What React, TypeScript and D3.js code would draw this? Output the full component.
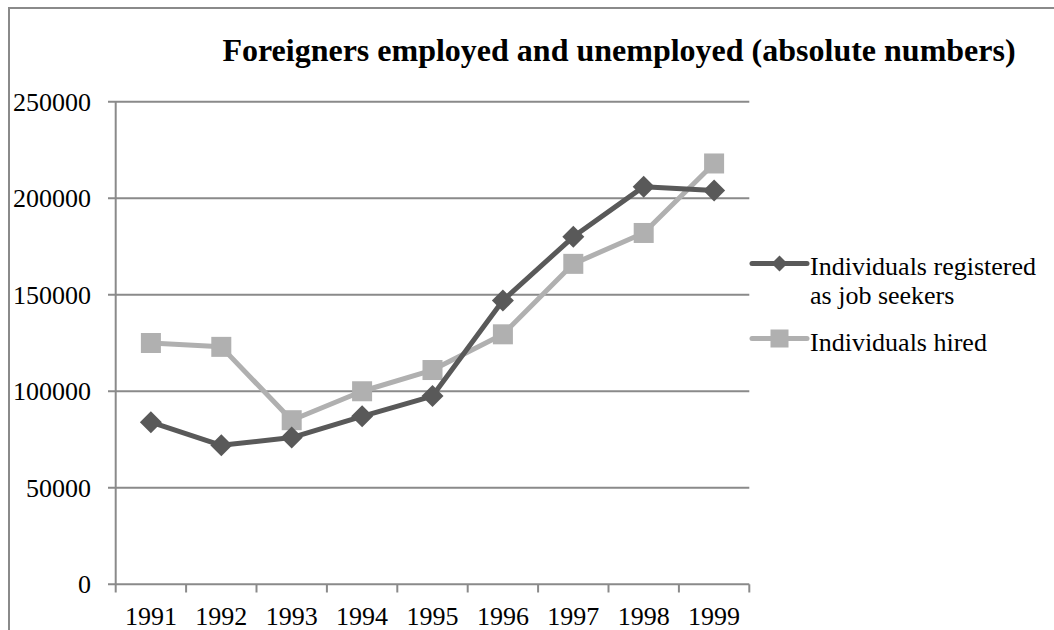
import React from "react";
import * as d3 from "d3";

const years = ["1991", "1992", "1993", "1994", "1995", "1996", "1997", "1998", "1999"];
const jobSeekers = [84000, 72000, 76000, 87000, 97500, 147000, 180000, 206000, 204000];
const hired = [125000, 123000, 85000, 100000, 111000, 129500, 166000, 182000, 218000];
const yTicks = [0, 50000, 100000, 150000, 200000, 250000];
const seriesNames = ["Individuals registered", "as job seekers"];
const hiredName = "Individuals hired";
const title = "Foreigners employed and unemployed (absolute numbers)";

const DARK = "#595959";
const LIGHT = "#b0b0b0";
const GRID = "#8a8a8a";
const FONT = "'Liberation Serif', 'Times New Roman', serif";

export default function App() {
  const x = d3.scaleBand<string>().domain(years).range([115.7, 749.3]).padding(0);
  const y = d3.scaleLinear().domain([0, 250000]).range([584.3, 101.7]);
  const cx = (d: string) => (x(d) as number) + x.bandwidth() / 2;

  const line = d3
    .line<number>()
    .x((_, i) => cx(years[i]))
    .y((v) => y(v));

  const diamond = (px: number, py: number, r: number) =>
    `M${px},${py - r}L${px + r},${py}L${px},${py + r}L${px - r},${py}Z`;

  const bandEdges = [...years.map((d) => x(d) as number), 749.3];

  return (
    <svg
      width={1054}
      height={630}
      style={{ position: "absolute", left: 0, top: 0, background: "#fff" }}
      fontFamily={FONT}
    >
      <rect x={9} y={8} width={1200} height={800} fill="#fff" stroke={GRID} strokeWidth={2} />

      <text x={619} y={61} textAnchor="middle" fontWeight="bold" fontSize={32} fill="#000">
        {title}
      </text>

      {/* gridlines + y ticks */}
      {yTicks.map((t) => (
        <g key={t}>
          <line x1={108} x2={749.3} y1={y(t)} y2={y(t)} stroke={GRID} strokeWidth={2} />
          <text x={91} y={y(t)} dy="0.35em" textAnchor="end" fontSize={26} fill="#000">
            {t}
          </text>
        </g>
      ))}
      {/* y axis */}
      <line x1={115.7} x2={115.7} y1={101.7} y2={584.3} stroke={GRID} strokeWidth={2} />
      {/* x ticks */}
      {bandEdges.map((e, i) => (
        <line key={i} x1={e} x2={e} y1={584.3} y2={592.5} stroke={GRID} strokeWidth={2} />
      ))}
      {years.map((d) => (
        <text key={d} x={cx(d)} y={625} textAnchor="middle" fontSize={26} fill="#000">
          {d}
        </text>
      ))}

      {/* series */}
      <path d={line(hired) as string} fill="none" stroke={LIGHT} strokeWidth={5} strokeLinejoin="round" />
      {hired.map((v, i) => (
        <rect key={i} x={cx(years[i]) - 10} y={y(v) - 10} width={20} height={20} fill={LIGHT} />
      ))}
      <path d={line(jobSeekers) as string} fill="none" stroke={DARK} strokeWidth={5} strokeLinejoin="round" />
      {jobSeekers.map((v, i) => (
        <path key={i} d={diamond(cx(years[i]), y(v), 11)} fill={DARK} />
      ))}

      {/* legend */}
      <line x1={752} x2={807} y1={263.5} y2={263.5} stroke={DARK} strokeWidth={5} strokeLinecap="round" />
      <path d={diamond(779.5, 263.5, 8)} fill={DARK} />
      <text x={810} y={275} fontSize={26} fill="#000">
        {seriesNames[0]}
      </text>
      <text x={810} y={303.5} fontSize={26} fill="#000">
        {seriesNames[1]}
      </text>
      <line x1={752} x2={807} y1={338.5} y2={338.5} stroke={LIGHT} strokeWidth={5} strokeLinecap="round" />
      <rect x={770.5} y={329.5} width={18} height={18} fill={LIGHT} />
      <text x={810} y={351} fontSize={26} fill="#000">
        {hiredName}
      </text>
    </svg>
  );
}
